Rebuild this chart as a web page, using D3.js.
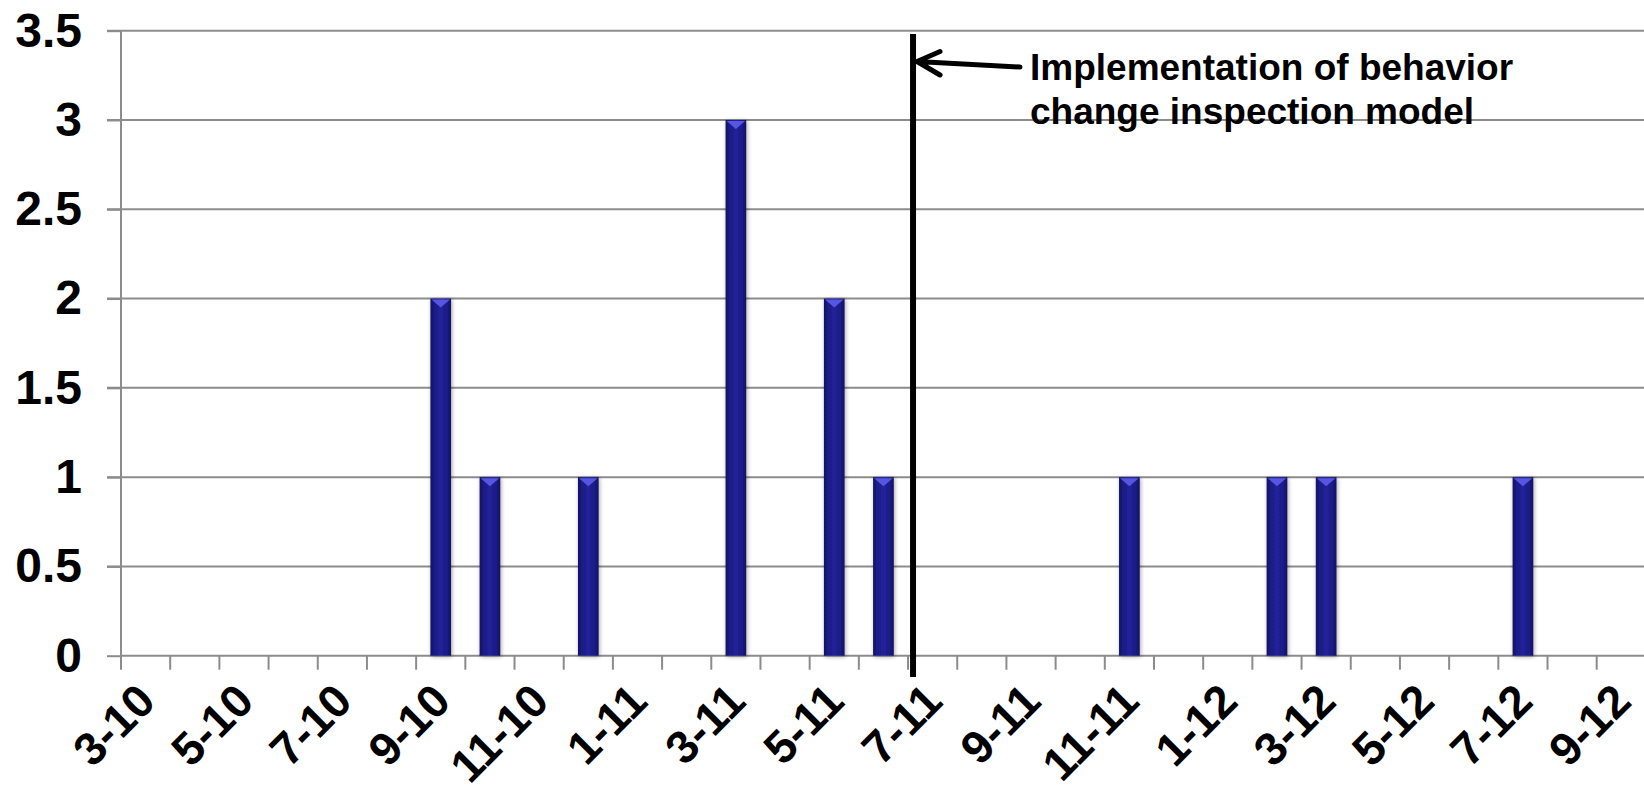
<!DOCTYPE html>
<html>
<head>
<meta charset="utf-8">
<script src="https://cdn.jsdelivr.net/npm/d3@7"></script>
<style>
  html, body { margin: 0; padding: 0; background: #fff; }
  svg { display: block; font-family: Arial, "Liberation Sans", sans-serif; }
</style>
</head>
<body>
<svg id="chart" width="1644" height="796"></svg>
<script>
// Monthly categories (month-year) and counts per month
const months = ["3-10","4-10","5-10","6-10","7-10","8-10","9-10","10-10","11-10","12-10",
                "1-11","2-11","3-11","4-11","5-11","6-11","7-11","8-11","9-11","10-11",
                "11-11","12-11","1-12","2-12","3-12","4-12","5-12","6-12","7-12","8-12","9-12"];
const counts = [0,0,0,0,0,0,2,1,0,1,
                0,0,3,0,2,1,0,0,0,0,
                1,0,0,1,1,0,0,0,1,0,0];
const yTicks = [0,0.5,1,1.5,2,2.5,3,3.5];
const shownLabels = ["3-10","5-10","7-10","9-10","11-10","1-11","3-11","5-11",
                     "7-11","9-11","11-11","1-12","3-12","5-12","7-12","9-12"];
const markerMonth = "7-11";
const noteLines = ["Implementation of behavior", "change inspection model"];

const svg = d3.select("#chart");
const plotLeft = 121, plotTop = 30.7, plotBottom = 655.7, monthStep = 49.19;
const plotRight = plotLeft + monthStep * months.length;

const x = d3.scaleBand().domain(months).range([plotLeft, plotRight])
  .paddingInner(0.58).paddingOuter(0.58 / 2);
const y = d3.scaleLinear().domain([0, 3.5]).range([plotBottom, plotTop]);
const boundary = m => x(m) + x.bandwidth() / 2 - x.step() / 2;

// Gradients and shadow for the bars
const defs = svg.append("defs");
const grad = defs.append("linearGradient").attr("id", "barFill")
  .attr("x1", "0%").attr("x2", "100%").attr("y1", "0%").attr("y2", "0%");
[["0%", "#10105a"], ["18%", "#1b1b86"], ["50%", "#222298"], ["82%", "#1b1b86"], ["100%", "#10105a"]]
  .forEach(([o, c]) => grad.append("stop").attr("offset", o).attr("stop-color", c));
const sh = defs.append("filter").attr("id", "barShadow")
  .attr("x", "-50%").attr("y", "-10%").attr("width", "200%").attr("height", "120%");
sh.append("feGaussianBlur").attr("in", "SourceAlpha").attr("stdDeviation", 2.2).attr("result", "b");
sh.append("feOffset").attr("in", "b").attr("dx", 1).attr("dy", 1).attr("result", "o");
sh.append("feComponentTransfer").attr("in", "o").attr("result", "s")
  .append("feFuncA").attr("type", "linear").attr("slope", 0.35);
const mg = sh.append("feMerge");
mg.append("feMergeNode").attr("in", "s");
mg.append("feMergeNode").attr("in", "SourceGraphic");

// Horizontal gridlines
svg.append("g").selectAll("line").data(yTicks.filter(d => d > 0)).join("line")
  .attr("x1", plotLeft - 14).attr("x2", 1644)
  .attr("y1", d => y(d)).attr("y2", d => y(d))
  .attr("stroke", "#8c8c8c").attr("stroke-width", 2);

// Y axis
const yAxis = svg.append("g").attr("transform", `translate(${plotLeft},0)`)
  .call(d3.axisLeft(y).tickValues(yTicks).tickSize(14).tickPadding(25).tickFormat(d => String(d)));
yAxis.select(".domain").attr("stroke", "#8c8c8c").attr("stroke-width", 2)
  .attr("d", `M0,${plotTop}V${plotBottom + 14}`);
yAxis.selectAll(".tick line").attr("stroke", "#8c8c8c").attr("stroke-width", 2);
yAxis.selectAll(".tick text").attr("font-size", 48).attr("font-weight", "bold")
  .attr("fill", "#000").attr("font-family", "Arial, 'Liberation Sans', sans-serif");

// X axis line and month boundary ticks
svg.append("line").attr("x1", plotLeft).attr("x2", 1644).attr("y1", plotBottom).attr("y2", plotBottom)
  .attr("stroke", "#8c8c8c").attr("stroke-width", 2);
svg.append("g").selectAll("line").data(months.slice(1)).join("line")
  .attr("x1", d => boundary(d)).attr("x2", d => boundary(d))
  .attr("y1", plotBottom).attr("y2", plotBottom + 14)
  .attr("stroke", "#8c8c8c").attr("stroke-width", 2);

// Rotated month labels
const xAxis = svg.append("g").attr("transform", `translate(0,${plotBottom})`)
  .call(d3.axisBottom(x).tickValues(shownLabels).tickSize(0).tickPadding(0));
xAxis.select(".domain").remove();
xAxis.selectAll(".tick text")
  .attr("font-size", 46).attr("font-weight", "bold").attr("fill", "#000")
  .attr("font-family", "Arial, 'Liberation Sans', sans-serif")
  .attr("text-anchor", "end").attr("dy", null).attr("y", null)
  .attr("transform", "translate(12,48) rotate(-45)");

// Bars
const bars = svg.append("g").selectAll("g")
  .data(months.map((m, i) => ({ m, v: counts[i] })).filter(d => d.v > 0))
  .join("g");
bars.append("rect")
  .attr("x", d => x(d.m)).attr("width", x.bandwidth())
  .attr("y", d => y(d.v)).attr("height", d => y(0) - y(d.v))
  .attr("fill", "url(#barFill)").attr("filter", "url(#barShadow)");
bars.append("path")
  .attr("d", d => {
    const x0 = x(d.m), x1 = x0 + x.bandwidth(), yt = y(d.v) + 1;
    return `M${x0 + 1},${yt}L${x1 - 1},${yt}L${(x0 + x1) / 2},${yt + 8}Z`;
  })
  .attr("fill", "#5656e2");

// Marker line at the start of the inspection model
const mx = boundary(markerMonth) + 5;
svg.append("line").attr("x1", mx).attr("x2", mx).attr("y1", 34).attr("y2", 677)
  .attr("stroke", "#000").attr("stroke-width", 6);

// Arrow and annotation text
svg.append("path")
  .attr("d", `M1020,67L${mx + 4},61.5M${mx + 27},51.5L${mx + 4},61.5L${mx + 27},75`)
  .attr("fill", "none").attr("stroke", "#000").attr("stroke-width", 5)
  .attr("stroke-linecap", "round").attr("stroke-linejoin", "miter");
svg.append("g").selectAll("text").data(noteLines).join("text")
  .attr("x", 1030).attr("y", (d, i) => 80 + i * 44.3)
  .attr("font-size", 37).attr("font-weight", "bold").attr("fill", "#000")
  .text(d => d);
</script>
</body>
</html>
